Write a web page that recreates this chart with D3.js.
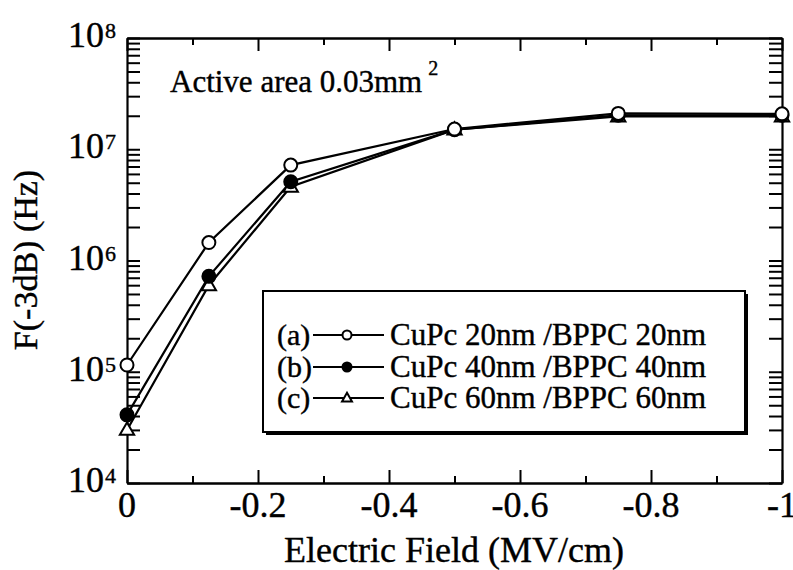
<!DOCTYPE html>
<html><head><meta charset="utf-8">
<script src="https://cdn.jsdelivr.net/npm/d3@7"></script>
<style>
body{margin:0;background:#fff}
svg text{font-family:'Liberation Serif','DejaVu Serif','Times New Roman',Times,serif;fill:#000;stroke:#000;stroke-width:0.4px}
</style>
</head><body>
<svg id="c" width="793" height="570" font-family="Liberation Serif, DejaVu Serif, serif"></svg>
<script>
// ---- data ----
const fieldValues = [0, -0.125, -0.25, -0.5, -0.75, -1.0];
const seriesA = [1.15e5, 1.45e6, 7.2e6, 1.52e7, 2.1e7, 2.08e7];
const seriesB = [4.1e4, 7.2e5, 5.1e6, 1.5e7, 2.02e7, 2.02e7];
const seriesC = [3.0e4, 6.0e5, 4.6e6, 1.5e7, 1.97e7, 1.97e7];
const seriesLabels = ["(a)", "(b)", "(c)"];
const seriesNames = ["CuPc 20nm /BPPC 20nm", "CuPc 40nm /BPPC 40nm", "CuPc 60nm /BPPC 60nm"];
const seriesMarkers = ["open", "filled", "triangle"];
const xMajorTicks = [0, -0.2, -0.4, -0.6, -0.8, -1];
const xTickLabels = ["0", "-0.2", "-0.4", "-0.6", "-0.8", "-1"];
const xMinorTicks = [-0.1, -0.3, -0.5, -0.7, -0.9];
const yDecades = [1e4, 1e5, 1e6, 1e7, 1e8];
const yExponents = ["4", "5", "6", "7", "8"];
const xTitle = "Electric Field (MV/cm)";
const yTitle = "F(-3dB) (Hz)";
const noteText = "Active area 0.03mm";
const noteSup = "2";

// ---- layout ----
const FF = "'Liberation Serif', 'DejaVu Serif', serif";
const L = 127, R = 782, T = 38, B = 483;
const svg = d3.select("#c");
const x = d3.scaleLinear().domain([0, -1]).range([L, R]);
const y = d3.scaleLog().domain([1e4, 1e8]).range([B, T]);

const yMinor = [];
for (let i = 0; i < yDecades.length - 1; i++) for (let k = 2; k <= 9; k++) yMinor.push(yDecades[i] * k);
const yAll = yDecades.concat(yMinor);

function styleAxis(g) {
  g.selectAll("path.domain").attr("stroke", "#000").attr("stroke-width", 2.2);
  g.selectAll(".tick line").attr("stroke", "#000").attr("stroke-width", 2);
  g.selectAll(".tick text").remove();
}
svg.append("g").attr("transform", `translate(0,${B})`)
  .call(d3.axisBottom(x).tickValues(xMajorTicks).tickSizeInner(-13).tickSizeOuter(0).tickFormat("")).call(styleAxis);
svg.append("g").attr("transform", `translate(0,${B})`)
  .call(d3.axisBottom(x).tickValues(xMinorTicks).tickSizeInner(-7).tickSizeOuter(0).tickFormat("")).call(styleAxis);
svg.append("g").attr("transform", `translate(0,${T})`)
  .call(d3.axisTop(x).tickValues(xMajorTicks).tickSizeInner(-13).tickSizeOuter(0).tickFormat("")).call(styleAxis);
svg.append("g").attr("transform", `translate(0,${T})`)
  .call(d3.axisTop(x).tickValues(xMinorTicks).tickSizeInner(-7).tickSizeOuter(0).tickFormat("")).call(styleAxis);
svg.append("g").attr("transform", `translate(${L},0)`)
  .call(d3.axisLeft(y).tickValues(yAll).tickSizeInner(-13).tickSizeOuter(0).tickFormat("")).call(styleAxis);
svg.append("g").attr("transform", `translate(${R},0)`)
  .call(d3.axisRight(y).tickValues(yAll).tickSizeInner(-13).tickSizeOuter(0).tickFormat("")).call(styleAxis);

function txt(g) { return g.append("text").attr("font-family", FF); }

// x tick labels
xMajorTicks.forEach((d, i) => {
  txt(svg).attr("x", x(d)).attr("y", 517).attr("text-anchor", "middle")
    .attr("font-size", 36).text(xTickLabels[i]);
});

// y tick labels
yDecades.forEach((d, i) => {
  txt(svg).attr("x", 104).attr("y", y(d) + 9).attr("text-anchor", "end").attr("font-size", 36).text("10");
  txt(svg).attr("x", 105).attr("y", y(d) + 0).attr("font-size", 22).text(yExponents[i]);
});

// axis titles
txt(svg).attr("x", 454).attr("y", 562).attr("text-anchor", "middle").attr("font-size", 36).text(xTitle);
txt(svg).attr("transform", `translate(37,260) rotate(-90)`).attr("text-anchor", "middle")
  .attr("font-size", 34).text(yTitle);

// note
const note = txt(svg).attr("x", 170).attr("y", 92).attr("font-size", 31);
note.append("tspan").text(noteText);
note.append("tspan").attr("dx", 6).attr("dy", -17).attr("font-size", 20).text(noteSup);

// lines
const series = [seriesA, seriesB, seriesC];
const line = d3.line().x((d, i) => x(fieldValues[i])).y(d => y(d));
svg.append("g").selectAll("path").data(series).join("path")
  .attr("d", d => line(d)).attr("fill", "none").attr("stroke", "#000").attr("stroke-width", 2.2);

function drawMarker(g, type, cx, cy, r) {
  if (type === "triangle") {
    const s = r * 2.2;
    const h = s * Math.sqrt(3) / 2;
    g.append("path").attr("d", `M${cx},${cy - h * 0.6}L${cx + s / 2},${cy + h * 0.4}L${cx - s / 2},${cy + h * 0.4}Z`)
      .attr("fill", "#fff").attr("stroke", "#000").attr("stroke-width", 2);
  } else {
    g.append("circle").attr("cx", cx).attr("cy", cy).attr("r", r)
      .attr("fill", type === "filled" ? "#000" : "#fff").attr("stroke", "#000").attr("stroke-width", 2);
  }
}
const mk = svg.append("g");
[2, 1, 0].forEach(si => {
  series[si].forEach((v, i) => drawMarker(mk, seriesMarkers[si], x(fieldValues[i]), y(v), 6.5));
});

// legend
const lg = svg.append("g");
lg.append("rect").attr("x", 266).attr("y", 294).attr("width", 482).attr("height", 141).attr("fill", "#000");
lg.append("rect").attr("x", 263).attr("y", 291).attr("width", 482).attr("height", 141)
  .attr("fill", "#fff").attr("stroke", "#000").attr("stroke-width", 2);
const rowsY = [345, 377, 408];
seriesLabels.forEach((lab, i) => {
  const by = rowsY[i];
  txt(lg).attr("x", 277).attr("y", by).attr("font-size", 30).text(lab);
  lg.append("line").attr("x1", 313).attr("x2", 384).attr("y1", by - 10).attr("y2", by - 10)
    .attr("stroke", "#000").attr("stroke-width", 2);
  drawMarker(lg, seriesMarkers[i], 347, by - 10, 4.5);
  txt(lg).attr("x", 390).attr("y", by).attr("font-size", 31).text(seriesNames[i]);
});
</script>
</body></html>
